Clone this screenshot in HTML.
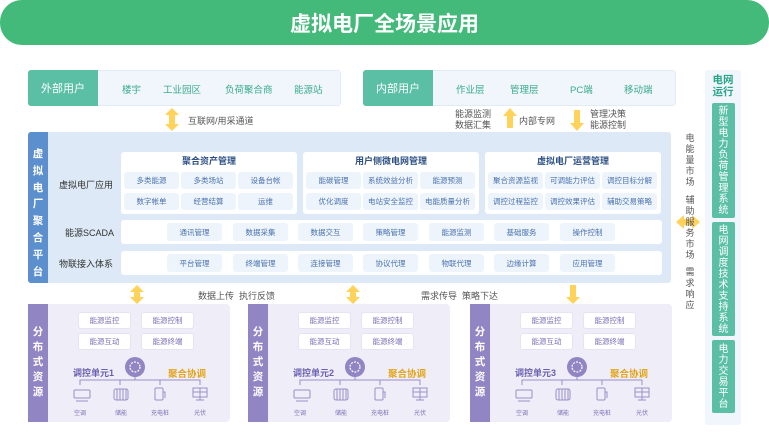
<!DOCTYPE html>
<html><head><meta charset="utf-8"><style>
*{margin:0;padding:0;box-sizing:border-box}
body{width:769px;height:434px;background:#fff;position:relative;overflow:hidden;font-family:"Liberation Sans","Noto Sans CJK SC",sans-serif}
.a{position:absolute}
.c{display:flex;align-items:center;justify-content:center}
.t{font-size:9px;color:#555;white-space:nowrap}
.ut{font-size:9.5px;color:#3aaa8e}
.lab{background:#5bbfa6;color:#fff;font-size:11px}
.card{background:#fff;border-radius:3px}
.chip{background:#eef4fb;border-radius:3px;font-size:7.5px;color:#4a72b0}
.row{background:#fff;border-radius:3px}
.rl{font-size:9px;color:#333}
.vt{text-align:center}
.pbox{background:#efedf7;border-radius:4px;overflow:hidden}
.pb{background:#fff;border-radius:3px;font-size:7.5px;color:#7c72b8;border:1px solid #e6e3f2}
.gbox{background:#5bbfa6;color:#fff;font-size:10px;border-radius:2px;line-height:11px;text-align:center}
</style></head><body>
<div class="a c" style="left:0;top:0;width:769px;height:45px;background:#43ba7a;border-radius:22px;color:#fff;font-size:21px;font-weight:bold">虚拟电厂全场景应用</div>

<div class="a" style="left:28px;top:70px;width:313px;height:36px;background:#f0f6fb;border:1px solid #e2ecf6;border-radius:3px"></div>
<div class="a c lab" style="left:28px;top:70px;width:70px;height:36px;border-radius:3px 0 0 3px">外部用户</div>
<div class="a ut" style="left:122px;top:82px">楼宇</div>
<div class="a ut" style="left:163px;top:82px">工业园区</div>
<div class="a ut" style="left:225px;top:82px">负荷聚合商</div>
<div class="a ut" style="left:294px;top:82px">能源站</div>

<div class="a" style="left:363px;top:70px;width:313px;height:36px;background:#f0f6fb;border:1px solid #e2ecf6;border-radius:3px"></div>
<div class="a c lab" style="left:363px;top:70px;width:70px;height:36px;border-radius:3px 0 0 3px">内部用户</div>
<div class="a ut" style="left:456px;top:82px">作业层</div>
<div class="a ut" style="left:510px;top:82px">管理层</div>
<div class="a ut" style="left:570px;top:82px">PC端</div>
<div class="a ut" style="left:624px;top:82px">移动端</div>

<svg class="a" style="left:0;top:0" width="769" height="434">
<g fill="#ffd25a">
<path d="M172 108 L179 115 L175 115 L175 124 L179 124 L172 131 L165 124 L169 124 L169 115 L165 115Z"/>
<path d="M510 108 L517 116 L513 116 L513 128 L507 128 L507 116 L503 116Z"/>
<path d="M577 131 L584 123 L580 123 L580 110 L574 110 L574 123 L570 123Z"/>
<path d="M676 222 L684 215 L684 219 L692 219 L692 215 L700 222 L692 229 L692 225 L684 225 L684 229Z"/>
<path d="M137 285 L144 292 L140 292 L140 297 L144 297 L137 304 L130 297 L134 297 L134 292 L130 292Z"/>
<path d="M353 285 L360 292 L356 292 L356 297 L360 297 L353 304 L346 297 L350 297 L350 292 L346 292Z"/>
<path d="M573 304 L580 297 L576 297 L576 285 L570 285 L570 297 L566 297Z"/>
</g>
</svg>
<div class="a t" style="left:188px;top:114px">互联网/用采通道</div>
<div class="a t" style="left:455px;top:109px;line-height:11px">能源监测<br>数据汇集</div>
<div class="a t" style="left:519px;top:114px">内部专网</div>
<div class="a t" style="left:590px;top:109px;line-height:11px">管理决策<br>能源控制</div>

<div class="a" style="left:28px;top:132px;width:643px;height:151px;background:#dde9f6;border-radius:3px"></div>
<div class="a" style="left:28px;top:132px;width:20px;height:151px;background:#5b8fce;border-radius:3px 0 0 3px"></div>
<div class="a vt" style="left:28px;top:146px;width:20px;color:#fff;font-weight:bold;font-size:10.5px;line-height:16.8px">虚<br>拟<br>电<br>厂<br>聚<br>合<br>平<br>台</div>
<div class="a rl" style="left:59px;top:178px">虚拟电厂应用</div>
<div class="a rl" style="left:65px;top:226px">能源SCADA</div>
<div class="a rl" style="left:59px;top:257px">物联接入体系</div>

<div class="a card" style="left:121px;top:152px;width:176px;height:62px"></div>
<div class="a card" style="left:303px;top:152px;width:176px;height:62px"></div>
<div class="a card" style="left:485px;top:152px;width:176px;height:62px"></div>
<div class="a c" style="left:121px;top:153px;width:176px;height:14px;font-size:9px;font-weight:bold;color:#2d4f85">聚合资产管理</div>
<div class="a c" style="left:303px;top:153px;width:176px;height:14px;font-size:9px;font-weight:bold;color:#2d4f85">用户侧微电网管理</div>
<div class="a c" style="left:485px;top:153px;width:176px;height:14px;font-size:9px;font-weight:bold;color:#2d4f85">虚拟电厂运营管理</div>

<div class="a c chip" style="left:124px;top:172px;width:55px;height:17px">多类能源</div>
<div class="a c chip" style="left:181px;top:172px;width:55px;height:17px">多类场站</div>
<div class="a c chip" style="left:238px;top:172px;width:55px;height:17px">设备台帐</div>
<div class="a c chip" style="left:124px;top:193px;width:55px;height:17px">数字帐单</div>
<div class="a c chip" style="left:181px;top:193px;width:55px;height:17px">经营结算</div>
<div class="a c chip" style="left:238px;top:193px;width:55px;height:17px">运维</div>

<div class="a c chip" style="left:306px;top:172px;width:55px;height:17px">能碳管理</div>
<div class="a c chip" style="left:363px;top:172px;width:55px;height:17px">系统效益分析</div>
<div class="a c chip" style="left:420px;top:172px;width:55px;height:17px">能源预测</div>
<div class="a c chip" style="left:306px;top:193px;width:55px;height:17px">优化调度</div>
<div class="a c chip" style="left:363px;top:193px;width:55px;height:17px">电站安全监控</div>
<div class="a c chip" style="left:420px;top:193px;width:55px;height:17px">电能质量分析</div>

<div class="a c chip" style="left:488px;top:172px;width:55px;height:17px">聚合资源监视</div>
<div class="a c chip" style="left:545px;top:172px;width:55px;height:17px">可调能力评估</div>
<div class="a c chip" style="left:602px;top:172px;width:55px;height:17px">调控目标分解</div>
<div class="a c chip" style="left:488px;top:193px;width:55px;height:17px">调控过程监控</div>
<div class="a c chip" style="left:545px;top:193px;width:55px;height:17px">调控效果评估</div>
<div class="a c chip" style="left:602px;top:193px;width:55px;height:17px">辅助交易策略</div>

<div class="a row" style="left:121px;top:220px;width:541px;height:24px"></div>
<div class="a row" style="left:121px;top:251px;width:541px;height:24px"></div>
<div class="a c chip" style="left:167px;top:223px;width:55px;height:18px">通讯管理</div>
<div class="a c chip" style="left:233px;top:223px;width:55px;height:18px">数据采集</div>
<div class="a c chip" style="left:298px;top:223px;width:55px;height:18px">数据交互</div>
<div class="a c chip" style="left:363px;top:223px;width:55px;height:18px">策略管理</div>
<div class="a c chip" style="left:429px;top:223px;width:55px;height:18px">能源监测</div>
<div class="a c chip" style="left:494px;top:223px;width:55px;height:18px">基础服务</div>
<div class="a c chip" style="left:560px;top:223px;width:55px;height:18px">操作控制</div>
<div class="a c chip" style="left:167px;top:254px;width:55px;height:18px">平台管理</div>
<div class="a c chip" style="left:233px;top:254px;width:55px;height:18px">终端管理</div>
<div class="a c chip" style="left:298px;top:254px;width:55px;height:18px">连接管理</div>
<div class="a c chip" style="left:363px;top:254px;width:55px;height:18px">协议代理</div>
<div class="a c chip" style="left:429px;top:254px;width:55px;height:18px">物联代理</div>
<div class="a c chip" style="left:494px;top:254px;width:55px;height:18px">边缘计算</div>
<div class="a c chip" style="left:560px;top:254px;width:55px;height:18px">应用管理</div>

<div class="a t vt" style="left:684px;top:133px;width:12px;line-height:11px">电<br>能<br>量<br>市<br>场</div>
<div class="a t vt" style="left:684px;top:195px;width:12px;line-height:11px">辅<br>助<br>服<br>务<br>市<br>场</div>
<div class="a t vt" style="left:684px;top:267px;width:12px;line-height:11px">需<br>求<br>响<br>应</div>

<div class="a" style="left:705px;top:70px;width:36px;height:355px;background:#f0f6fb;border-radius:3px"></div>
<div class="a" style="left:705px;top:74px;width:36px;text-align:center;font-size:10.5px;font-weight:bold;color:#2ba588;line-height:12px">电网<br>运行</div>
<div class="a gbox" style="left:712px;top:103px;width:23px;height:115px;padding-top:3px">新<br>型<br>电<br>力<br>负<br>荷<br>管<br>理<br>系<br>统</div>
<div class="a gbox" style="left:712px;top:222px;width:23px;height:114px;padding-top:3px">电<br>网<br>调<br>度<br>技<br>术<br>支<br>持<br>系<br>统</div>
<div class="a gbox" style="left:712px;top:340px;width:23px;height:73px;padding-top:4px">电<br>力<br>交<br>易<br>平<br>台</div>

<div class="a t" style="left:198px;top:289px">数据上传&nbsp;&nbsp;执行反馈</div>
<div class="a t" style="left:421px;top:289px">需求传导&nbsp;&nbsp;策略下达</div>

<div class="a pbox" style="left:28px;top:304px;width:202px;height:118px"></div>
<div class="a pbox" style="left:248px;top:304px;width:202px;height:118px"></div>
<div class="a pbox" style="left:470px;top:304px;width:202px;height:118px"></div>

<svg class="a" style="left:0;top:0" width="769" height="434">
<defs>
<g id="u">
<rect x="0" y="0" width="20" height="118" fill="#9185c4"/>
<g stroke="#9a90c8" fill="none" stroke-width="1">
<path d="M52 81 V76 H172 V81 M92 76 V81 M132 76 V81 M107 76 V72"/>
<rect x="46" y="86" width="16" height="8" rx="1"/><path d="M48 97 h12"/>
<rect x="86" y="85" width="14" height="11" rx="2"/><path d="M89 85 v11 M92 85 v11 M95 85 v11 M98 85 v11"/>
<rect x="127" y="84" width="8" height="12" rx="1"/><path d="M135 88 h2 v6"/>
<rect x="165" y="84" width="14" height="9"/><path d="M172 84 v9 M165 88 h14 M172 93 v3 M168 96 h8"/>
</g>
<circle cx="107" cy="63" r="10" fill="#9185c4"/>
<circle cx="107" cy="63" r="5" fill="none" stroke="#fff" stroke-width="1.2" stroke-dasharray="2 1.2"/>
</g>
</defs>
<use href="#u" x="28" y="304"/>
<use href="#u" x="248" y="304"/>
<use href="#u" x="470" y="304"/>
</svg>

<div class="a vt" style="left:28px;top:325px;width:20px;color:#fff;font-weight:bold;font-size:10.5px;line-height:15px">分<br>布<br>式<br>资<br>源</div>
<div class="a vt" style="left:248px;top:325px;width:20px;color:#fff;font-weight:bold;font-size:10.5px;line-height:15px">分<br>布<br>式<br>资<br>源</div>
<div class="a vt" style="left:470px;top:325px;width:20px;color:#fff;font-weight:bold;font-size:10.5px;line-height:15px">分<br>布<br>式<br>资<br>源</div>

<div class="a c pb" style="left:78px;top:312px;width:53px;height:17px">能源监控</div>
<div class="a c pb" style="left:141px;top:312px;width:53px;height:17px">能源控制</div>
<div class="a c pb" style="left:78px;top:333px;width:53px;height:17px">能源互动</div>
<div class="a c pb" style="left:141px;top:333px;width:53px;height:17px">能源终端</div>
<div class="a c pb" style="left:298px;top:312px;width:53px;height:17px">能源监控</div>
<div class="a c pb" style="left:361px;top:312px;width:53px;height:17px">能源控制</div>
<div class="a c pb" style="left:298px;top:333px;width:53px;height:17px">能源互动</div>
<div class="a c pb" style="left:361px;top:333px;width:53px;height:17px">能源终端</div>
<div class="a c pb" style="left:520px;top:312px;width:53px;height:17px">能源监控</div>
<div class="a c pb" style="left:583px;top:312px;width:53px;height:17px">能源控制</div>
<div class="a c pb" style="left:520px;top:333px;width:53px;height:17px">能源互动</div>
<div class="a c pb" style="left:583px;top:333px;width:53px;height:17px">能源终端</div>

<div class="a" style="left:73px;top:366px;font-size:9px;font-weight:bold;color:#6a5fb0">调控单元1</div>
<div class="a" style="left:168px;top:366px;font-size:9.5px;font-weight:bold;color:#e3a418">聚合协调</div>
<div class="a" style="left:293px;top:366px;font-size:9px;font-weight:bold;color:#6a5fb0">调控单元2</div>
<div class="a" style="left:388px;top:366px;font-size:9.5px;font-weight:bold;color:#e3a418">聚合协调</div>
<div class="a" style="left:515px;top:366px;font-size:9px;font-weight:bold;color:#6a5fb0">调控单元3</div>
<div class="a" style="left:610px;top:366px;font-size:9.5px;font-weight:bold;color:#e3a418">聚合协调</div>

<div class="a" style="left:0;top:408px;width:769px;font-size:6px;color:#7c72b8">
<span class="a" style="left:74px">空调</span><span class="a" style="left:115px">储能</span><span class="a" style="left:151px">充电桩</span><span class="a" style="left:194px">光伏</span>
<span class="a" style="left:294px">空调</span><span class="a" style="left:335px">储能</span><span class="a" style="left:371px">充电桩</span><span class="a" style="left:414px">光伏</span>
<span class="a" style="left:516px">空调</span><span class="a" style="left:557px">储能</span><span class="a" style="left:593px">充电桩</span><span class="a" style="left:636px">光伏</span>
</div>
</body></html>
